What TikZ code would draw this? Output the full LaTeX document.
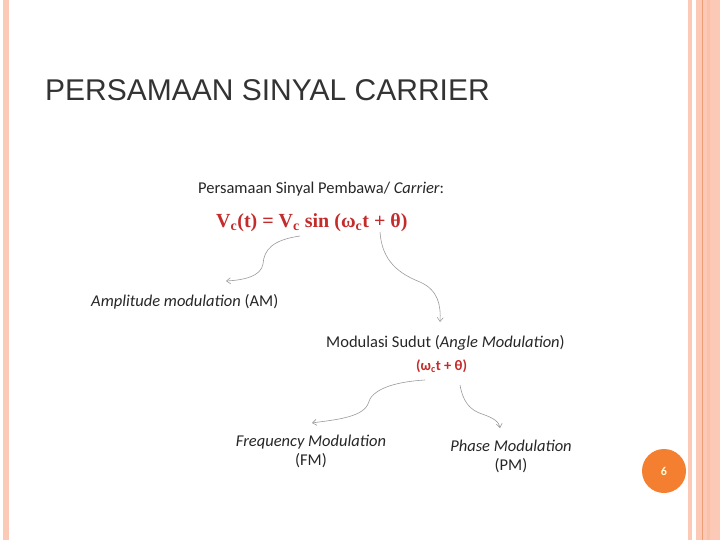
\documentclass[tikz,border=0pt]{standalone}
\usepackage{fontspec}
\setmainfont{Carlito}
\newfontfamily\titlefont{Liberation Sans}
\newfontfamily\eqfont{Liberation Serif}
\usetikzlibrary{arrows.meta, positioning, calc}

\definecolor{stripe}{HTML}{FBC9B5}
\definecolor{stripeline}{HTML}{EE9E74}
\definecolor{pagedot}{HTML}{F47F30}
\definecolor{eqred}{HTML}{C42B2B}
\definecolor{flowgray}{HTML}{9A9A9A}

\begin{document}
\begin{tikzpicture}[
        x=1pt, y=-1pt,
        label/.style={inner sep=0pt, anchor=base west, font=\fontsize{16.5}{19}\selectfont, text=black!85},
        eq/.style={inner sep=0pt, anchor=base west, text=eqred, font=\eqfont\bfseries\fontsize{20}{24}\selectfont},
        flow/.style={draw=flowgray, line width=0.6pt, -{Straight Barb[length=4pt, width=6pt]}}
      ]

      \useasboundingbox (0,0) rectangle (720,540);

      % Slide borders
      \fill[stripe] (3,0) rectangle (9,540);
      \fill[stripe] (688,0) rectangle (692,540);
      \fill[stripe] (696,0) rectangle (720,540);
      \fill[stripe!80!stripeline] (707,0) rectangle (710,540);
      \draw[stripeline, line width=0.7pt] (702.5,0) -- (702.5,540);

      % Title
      \node[inner sep=0pt, anchor=base west, font=\titlefont\fontsize{30}{34}\selectfont, text=black!80] (title) at (45,101) {PERSAMAAN SINYAL CARRIER};

      % Carrier equation
      \node[label] (head) at (198,194) {Persamaan Sinyal Pembawa/ \textit{Carrier}:};
      \node[eq] (carrier) at (216,227) {V\textsubscript{c}(t) = V\textsubscript{c} sin (ω\textsubscript{c}t + θ)};

      % Amplitude branch
      \node[label] (am) at (91,306) {\textit{Amplitude modulation} (AM)};

      % Angle branch
      \node[label] (angle) at (326,347) {Modulasi Sudut (\textit{Angle Modulation})};
      \node[inner sep=0pt, anchor=base west, text=eqred, font=\bfseries\fontsize{14.5}{16}\selectfont] (phase) at (416,370) {(ω\textsubscript{c}t + θ)};

      % FM and PM
      \node[label, anchor=base, align=center] (fm) at (311,465) {\textit{Frequency Modulation}\\(FM)};
      \node[label, anchor=base, align=center] (pm) at (511,470) {\textit{Phase Modulation}\\(PM)};

      % Connections
      \draw[flow] ($(carrier.base west)+(84,9)$) .. controls (272,240) and (264,250) .. (263,264) .. controls (261,276) and (245,280) .. ($(am.base west)+(135,-25)$);
      \draw[flow] ($(carrier.base west)+(164,5)$) .. controls (382,262) and (400,274) .. (420,282) .. controls (438,290) and (441,305) .. ($(angle.base west)+(114,-25)$);
      \draw[flow] ($(phase.base west)+(9,10)$) .. controls (392,382) and (371,390) .. (368,404) .. controls (362,418) and (332,420) .. ($(fm.base)+(1,-42)$);
      \draw[flow] ($(phase.base west)+(44,15)$) .. controls (463,402) and (470,410) .. (482,414) .. controls (494,418) and (499,422) .. ($(pm.base)+(-11,-42)$);

      % Page number
      \node[circle, fill=pagedot, minimum size=44pt, inner sep=0pt, text=yellow!15, font=\bfseries\fontsize{12}{14}\selectfont] (pagenum) at (664,471) {6};

\end{tikzpicture}
\end{document}
